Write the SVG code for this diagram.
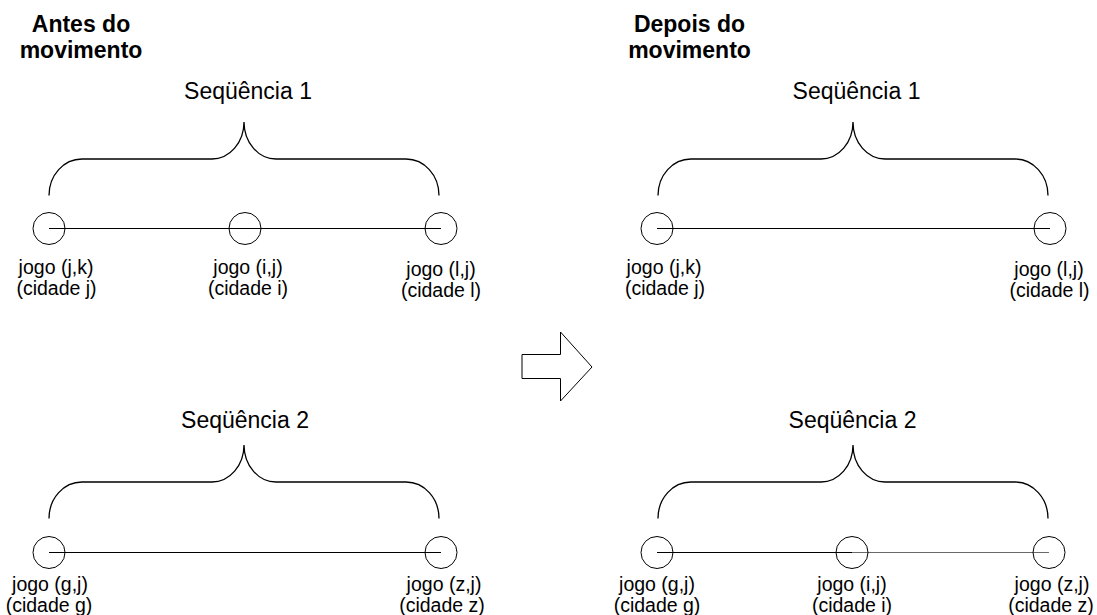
<svg xmlns="http://www.w3.org/2000/svg" xmlns:xlink="http://www.w3.org/1999/xlink" width="1097" height="615" viewBox="0 0 1097 615">
<style>
.title{font-family:"Liberation Sans",Arial,sans-serif;font-weight:bold;font-size:23px;fill:#000;text-anchor:middle}
.seq{font-family:"Liberation Sans",Arial,sans-serif;font-size:23px;fill:#000;text-anchor:middle}
.lbl{font-family:"Liberation Sans",Arial,sans-serif;font-size:19.5px;fill:#000;text-anchor:middle}
.node{fill:none;stroke:#000;stroke-width:1}
.edge{fill:none;stroke:#000;stroke-width:1}
.brace{fill:none;stroke:#000;stroke-width:1.3}
</style>
<defs>
<path id="brace" d="M0,73.5 C0,53.1 14.8,37 33,37 L163,37 C180.7,37 195,20.4 195,0 C195,20.4 209.3,37 227,37 L357,37 C375.2,37 390,53.1 390,73.5"/>
</defs>
<rect width="1097" height="615" fill="#fff"/>
<g id="titles">
<text class="title" x="81" y="32">Antes do</text>
<text class="title" x="81" y="58">movimento</text>
<text class="title" x="689.5" y="32">Depois do</text>
<text class="title" x="689.5" y="58">movimento</text>
</g>
<g id="sequences">
<text class="seq" x="248" y="99">Seqüência 1</text>
<text class="seq" x="245" y="428">Seqüência 2</text>
<text class="seq" x="856.5" y="99">Seqüência 1</text>
<text class="seq" x="852.5" y="428">Seqüência 2</text>
<use xlink:href="#brace" class="brace" x="49" y="122"/>
<use xlink:href="#brace" class="brace" x="49" y="445"/>
<use xlink:href="#brace" class="brace" x="658" y="122"/>
<use xlink:href="#brace" class="brace" x="658" y="445"/>
</g>
<g id="connectors">
<line class="edge" x1="49" y1="228.5" x2="441" y2="228.5"/>
<line class="edge" x1="49" y1="552.5" x2="441" y2="552.5"/>
<line class="edge" x1="657" y1="228.5" x2="1050" y2="228.5"/>
<line class="edge" x1="657" y1="552.5" x2="852" y2="552.5"/>
<line class="edge" x1="852" y1="552.5" x2="1049" y2="552.5" style="stroke:#6a6a6a"/>
</g>
<g id="node-before-jk"><circle class="node" cx="49" cy="228.5" r="16"/><text class="lbl" x="56" y="274">jogo (j,k)</text><text class="lbl" x="56.5" y="295">(cidade j)</text></g>
<g id="node-before-ij"><circle class="node" cx="245" cy="228.5" r="16"/><text class="lbl" x="248" y="274">jogo (i,j)</text><text class="lbl" x="248" y="295">(cidade i)</text></g>
<g id="node-before-lj"><circle class="node" cx="441" cy="228.5" r="16"/><text class="lbl" x="441" y="276">jogo (l,j)</text><text class="lbl" x="441" y="297">(cidade l)</text></g>
<g id="node-before-gj"><circle class="node" cx="49" cy="552.5" r="16"/><text class="lbl" x="50" y="591">jogo (g,j)</text><text class="lbl" x="49" y="611.5">(cidade g)</text></g>
<g id="node-before-zj"><circle class="node" cx="441" cy="552.5" r="16"/><text class="lbl" x="444" y="591">jogo (z,j)</text><text class="lbl" x="442" y="611.5">(cidade z)</text></g>
<g id="node-after-jk"><circle class="node" cx="657" cy="228.5" r="16"/><text class="lbl" x="664" y="274">jogo (j,k)</text><text class="lbl" x="665" y="295">(cidade j)</text></g>
<g id="node-after-lj"><circle class="node" cx="1050" cy="228.5" r="16"/><text class="lbl" x="1049" y="276">jogo (l,j)</text><text class="lbl" x="1049.5" y="297">(cidade l)</text></g>
<g id="node-after-gj"><circle class="node" cx="657" cy="552.5" r="16"/><text class="lbl" x="657" y="591">jogo (g,j)</text><text class="lbl" x="657" y="611.5">(cidade g)</text></g>
<g id="node-after-ij"><circle class="node" cx="852" cy="552.5" r="16"/><text class="lbl" x="852" y="591">jogo (i,j)</text><text class="lbl" x="852" y="611.5">(cidade i)</text></g>
<g id="node-after-zj"><circle class="node" cx="1049" cy="552.5" r="16"/><text class="lbl" x="1052" y="591">jogo (z,j)</text><text class="lbl" x="1051" y="611.5">(cidade z)</text></g>
<g id="arrow">
<polygon points="522,354.5 560.5,354.5 560.5,332 592,367 560.5,401 560.5,378.5 522,378.5" fill="#fff" stroke="#000" stroke-width="1"/>
</g>
</svg>
